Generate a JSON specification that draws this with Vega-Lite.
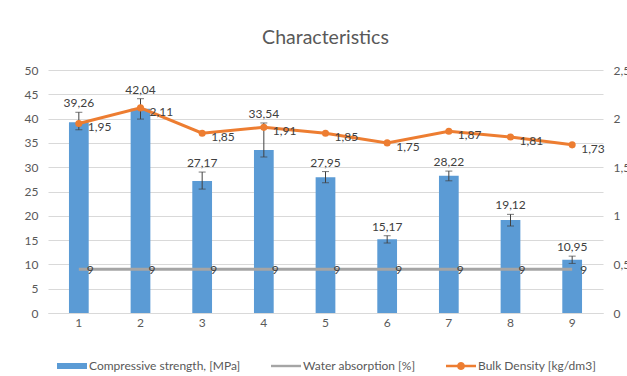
{
  "$schema": "https://vega.github.io/schema/vega-lite/v6.json",
  "width": 555,
  "height": 243,
  "autosize": {"type": "none"},
  "padding": {"left": 48, "top": 70, "right": 24, "bottom": 63},
  "background": "white",
  "title": {
    "text": "Characteristics",
    "font": "Lato",
    "fontSize": 19.5,
    "fontWeight": "normal",
    "color": "#595959",
    "offset": 16
  },
  "data": {
    "values": [
      {"sample": "1", "strength": 39.26, "lo": 37.7, "hi": 41.3, "water": 9, "density": 1.95},
      {"sample": "2", "strength": 42.04, "lo": 39.9, "hi": 44.1, "water": 9, "density": 2.11},
      {"sample": "3", "strength": 27.17, "lo": 25.5, "hi": 29.0, "water": 9, "density": 1.85},
      {"sample": "4", "strength": 33.54, "lo": 32.1, "hi": 39.1, "water": 9, "density": 1.91},
      {"sample": "5", "strength": 27.95, "lo": 26.8, "hi": 29.1, "water": 9, "density": 1.85},
      {"sample": "6", "strength": 15.17, "lo": 14.4, "hi": 15.9, "water": 9, "density": 1.75},
      {"sample": "7", "strength": 28.22, "lo": 27.2, "hi": 29.2, "water": 9, "density": 1.87},
      {"sample": "8", "strength": 19.12, "lo": 17.9, "hi": 20.3, "water": 9, "density": 1.81},
      {"sample": "9", "strength": 10.95, "lo": 10.2, "hi": 11.7, "water": 9, "density": 1.73}
    ]
  },
  "encoding": {
    "x": {
      "field": "sample",
      "type": "ordinal",
      "scale": {"paddingInner": 0, "paddingOuter": 0},
      "axis": {
        "title": null,
        "labelAngle": 0,
        "ticks": false,
        "domainColor": "#d9d9d9",
        "labelPadding": 4,
        "labelColor": "#595959",
        "labelFont": "Lato",
        "labelFontSize": 12
      }
    }
  },
  "layer": [
    {
      "mark": {"type": "bar", "width": {"band": 0.32}},
      "encoding": {
        "y": {
          "field": "strength",
          "type": "quantitative",
          "scale": {"domain": [0, 50], "nice": false},
          "axis": {
            "orient": "left",
            "title": null,
            "values": [0, 5, 10, 15, 20, 25, 30, 35, 40, 45, 50],
            "labelOverlap": false,
            "grid": true,
            "gridColor": "#d9d9d9",
            "domain": false,
            "ticks": false,
            "labelPadding": 10,
            "labelColor": "#595959",
            "labelFont": "Lato",
            "labelFontSize": 12
          }
        },
        "color": {
          "datum": "Compressive strength, [MPa]",
          "scale": {
            "domain": ["Compressive strength, [MPa]", "Water absorption [%]", "Bulk Density [kg/dm3]"],
            "range": ["#5b9bd5", "#a5a5a5", "#ed7d31"]
          },
          "legend": {
            "title": null,
            "orient": "bottom",
            "direction": "horizontal",
            "offset": 14,
            "padding": 9,
            "symbolSize": 900,
            "labelOffset": 2,
            "columnPadding": 30,
            "labelFont": "Lato",
            "labelFontSize": 12,
            "labelColor": "#595959",
            "encode": {
              "symbols": {
                "update": {
                  "shape": {
                    "signal": "datum.value === 'Compressive strength, [MPa]' ? 'M-1,-0.2H1V0.2H-1Z' : datum.value === 'Water absorption [%]' ? 'M-1,-0.08H1V0.08H-1Z' : 'M-1,-0.08H-0.25A0.26,0.26 0 0,1 0.25,-0.08H1V0.08H0.25A0.26,0.26 0 0,1 -0.25,0.08H-1Z'"
                  },
                  "fill": {"scale": "color", "field": "value"},
                  "strokeWidth": {"value": 0},
                  "opacity": {"value": 1}
                }
              }
            }
          }
        }
      }
    },
    {
      "mark": {
        "type": "errorbar",
        "color": "#404040",
        "ticks": {"size": 7, "color": "#404040"},
        "rule": {"color": "#404040", "strokeWidth": 1}
      },
      "encoding": {
        "y": {"field": "lo", "type": "quantitative", "scale": {"domain": [0, 50], "nice": false}, "axis": null},
        "y2": {"field": "hi"}
      }
    },
    {
      "mark": {
        "type": "text",
        "baseline": "bottom",
        "dy": -2,
        "font": "Lato",
        "fontSize": 12,
        "color": "#404040"
      },
      "encoding": {
        "y": {"field": "hi", "type": "quantitative", "scale": {"domain": [0, 50], "nice": false}, "axis": null},
        "text": {"field": "strength", "type": "quantitative", "format": ".2f"}
      }
    },
    {
      "mark": {"type": "line", "strokeWidth": 3},
      "encoding": {
        "y": {"field": "water", "type": "quantitative", "scale": {"domain": [0, 50], "nice": false}, "axis": null},
        "color": {"datum": "Water absorption [%]"}
      }
    },
    {
      "mark": {
        "type": "text",
        "align": "left",
        "baseline": "middle",
        "dx": 8,
        "dy": 1,
        "font": "Lato",
        "fontSize": 12,
        "color": "#404040"
      },
      "encoding": {
        "y": {"field": "water", "type": "quantitative", "scale": {"domain": [0, 50], "nice": false}, "axis": null},
        "text": {"field": "water", "type": "quantitative", "format": "d"}
      }
    },
    {
      "mark": {
        "type": "line",
        "strokeWidth": 3,
        "point": {"filled": true, "size": 50, "shape": "circle"}
      },
      "encoding": {
        "y": {
          "field": "density",
          "type": "quantitative",
          "scale": {"domain": [0, 2.5], "nice": false},
          "axis": {
            "orient": "right",
            "title": null,
            "values": [0, 0.5, 1, 1.5, 2, 2.5],
            "format": ".1~f",
            "labelOverlap": false,
            "grid": false,
            "domain": false,
            "ticks": false,
            "labelPadding": 10,
            "labelColor": "#595959",
            "labelFont": "Lato",
            "labelFontSize": 12
          }
        },
        "color": {"datum": "Bulk Density [kg/dm3]"}
      }
    },
    {
      "mark": {
        "type": "text",
        "align": "left",
        "baseline": "middle",
        "dx": 9,
        "dy": 4,
        "font": "Lato",
        "fontSize": 12,
        "color": "#404040"
      },
      "encoding": {
        "y": {"field": "density", "type": "quantitative", "scale": {"domain": [0, 2.5], "nice": false}, "axis": null},
        "text": {"field": "density", "type": "quantitative", "format": ".2f"}
      }
    }
  ],
  "resolve": {"scale": {"y": "independent"}},
  "config": {
    "view": {"stroke": null},
    "locale": {
      "number": {"decimal": ",", "thousands": ".", "grouping": [3], "currency": ["", " €"]}
    }
  }
}
